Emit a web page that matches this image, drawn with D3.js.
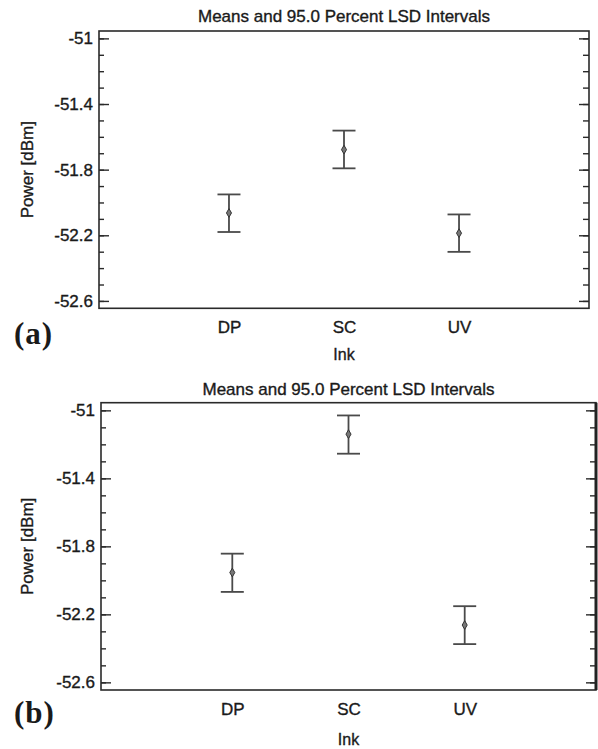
<!DOCTYPE html>
<html>
<head>
<meta charset="utf-8">
<script src="https://cdn.jsdelivr.net/npm/d3@7"></script>
<style>
  html, body { margin: 0; padding: 0; background: #fff; }
  svg { display: block; }
  text { font-family: "Liberation Sans", Arial, sans-serif; fill: #1a1a1a; }
  text.heavy { stroke: #1a1a1a; stroke-width: 0.35px; }
</style>
</head>
<body>
<svg id="chart" width="598" height="749"></svg>
<script>
// Ink categories shared by both panels
const categories = ["DP", "SC", "UV"];

// Panel (a): means with 95% LSD interval limits, Power [dBm]
const meansA = [-52.064, -51.678, -52.187];
const lowerA = [-52.180, -51.792, -52.301];
const upperA = [-51.951, -51.562, -52.073];

// Panel (b)
const meansB = [-51.954, -51.140, -52.263];
const lowerB = [-52.068, -51.255, -52.375];
const upperB = [-51.843, -51.030, -52.152];

// Axis settings
const yDomain = [-52.645, -50.955];
const yMajorTicks = [-51, -51.4, -51.8, -52.2, -52.6];
const yMinorTicks = d3.range(-510, -527, -1).map(v => v / 10);

const titleText = "Means and 95.0 Percent LSD Intervals";
const yLabelText = "Power [dBm]";
const xLabelText = "Ink";

const svg = d3.select("#chart");

function drawPanel(p) {
  const g = svg.append("g");
  const x = d3.scalePoint().domain(categories).range([p.left, p.right]).padding(1.13);
  const y = d3.scaleLinear().domain(yDomain).range([p.bottom, p.top]);

  // Inward-pointing ticks on both vertical sides: long at labelled values, short every 0.1
  const leftMajor = d3.axisRight(y).tickValues(yMajorTicks).tickSize(10).tickFormat(() => "");
  const leftMinor = d3.axisRight(y).tickValues(yMinorTicks).tickSize(5).tickFormat(() => "");
  const rightMajor = d3.axisLeft(y).tickValues(yMajorTicks).tickSize(10).tickFormat(() => "");
  const rightMinor = d3.axisLeft(y).tickValues(yMinorTicks).tickSize(6).tickFormat(() => "");

  [[leftMinor, p.left], [leftMajor, p.left], [rightMinor, p.right], [rightMajor, p.right]].forEach(([ax, xp]) => {
    const a = g.append("g").attr("transform", `translate(${xp},0)`).call(ax);
    a.select(".domain").remove();
    a.selectAll(".tick line").attr("stroke", "#2a2a2a").attr("stroke-width", 1.4);
  });

  // Tick labels on the left
  g.append("g").selectAll("text").data(yMajorTicks).join("text")
    .attr("class", "heavy")
    .attr("x", p.left - 6)
    .attr("y", d => y(d))
    .attr("dy", "0.35em")
    .attr("text-anchor", "end")
    .attr("font-size", 17)
    .text(d => d.toString());

  // Frame
  g.append("rect")
    .attr("x", p.left).attr("y", p.top)
    .attr("width", p.right - p.left).attr("height", p.bottom - p.top)
    .attr("fill", "none").attr("stroke", "#2a2a2a").attr("stroke-width", 1.6);
  if (p.heavyRight) {
    g.append("line")
      .attr("x1", p.right).attr("x2", p.right).attr("y1", p.top).attr("y2", p.bottom)
      .attr("stroke", "#222").attr("stroke-width", 3);
  }

  // Category labels
  const xAxis = d3.axisBottom(x).tickSize(0).tickPadding(0);
  const xa = g.append("g").attr("transform", `translate(0,${p.catY})`).call(xAxis);
  xa.select(".domain").remove();
  xa.selectAll("text")
    .attr("class", "heavy")
    .attr("font-size", 17)
    .attr("font-family", "Liberation Sans, Arial, sans-serif")
    .attr("fill", "#1a1a1a")
    .attr("dy", 0);

  // Title
  g.append("text")
    .attr("class", "heavy")
    .attr("x", (p.left + p.right) / 2).attr("y", p.titleY)
    .attr("text-anchor", "middle").attr("font-size", 17)
    .text(titleText);

  // Axis titles
  g.append("text")
    .attr("class", "heavy")
    .attr("x", (p.left + p.right) / 2).attr("y", p.inkY)
    .attr("text-anchor", "middle").attr("font-size", 16)
    .text(xLabelText);
  g.append("text")
    .attr("class", "heavy")
    .attr("transform", `translate(33,${(p.top + p.bottom) / 2}) rotate(-90)`)
    .attr("text-anchor", "middle").attr("font-size", 17)
    .text(yLabelText);

  // Panel tag
  g.append("text")
    .attr("x", 14).attr("y", p.tagY)
    .attr("font-weight", "bold").attr("font-size", 31)
    .attr("letter-spacing", 1)
    .style("font-family", "'Liberation Serif', 'Times New Roman', serif")
    .text(p.tag);

  // Interval bars with a mean marker
  const rows = categories.map((c, i) => ({ c, m: p.means[i], lo: p.lower[i], hi: p.upper[i] }));
  const bars = g.append("g").selectAll("g").data(rows).join("g");
  const capHalf = 11.5;
  bars.append("line")
    .attr("x1", d => x(d.c)).attr("x2", d => x(d.c))
    .attr("y1", d => y(d.hi)).attr("y2", d => y(d.lo))
    .attr("stroke", "#4a4a4a").attr("stroke-width", 1.8);
  bars.append("line")
    .attr("x1", d => x(d.c) - capHalf).attr("x2", d => x(d.c) + capHalf)
    .attr("y1", d => y(d.hi)).attr("y2", d => y(d.hi))
    .attr("stroke", "#4a4a4a").attr("stroke-width", 1.8);
  bars.append("line")
    .attr("x1", d => x(d.c) - capHalf).attr("x2", d => x(d.c) + capHalf)
    .attr("y1", d => y(d.lo)).attr("y2", d => y(d.lo))
    .attr("stroke", "#4a4a4a").attr("stroke-width", 1.8);
  bars.append("path")
    .attr("transform", d => `translate(${x(d.c)},${y(d.m)})`)
    .attr("d", d3.symbol(d3.symbolDiamond, 22))
    .attr("fill", "#777").attr("stroke", "#333").attr("stroke-width", 1);
}

drawPanel({
  left: 99, right: 589, top: 31, bottom: 308.3,
  titleY: 21.5, catY: 333, inkY: 360, tagY: 344, tag: "(a)",
  means: meansA, lower: lowerA, upper: upperA, heavyRight: false
});

drawPanel({
  left: 101, right: 596, top: 402.7, bottom: 690,
  titleY: 395, catY: 715, inkY: 745, tagY: 723, tag: "(b)",
  means: meansB, lower: lowerB, upper: upperB, heavyRight: true
});
</script>
</body>
</html>
